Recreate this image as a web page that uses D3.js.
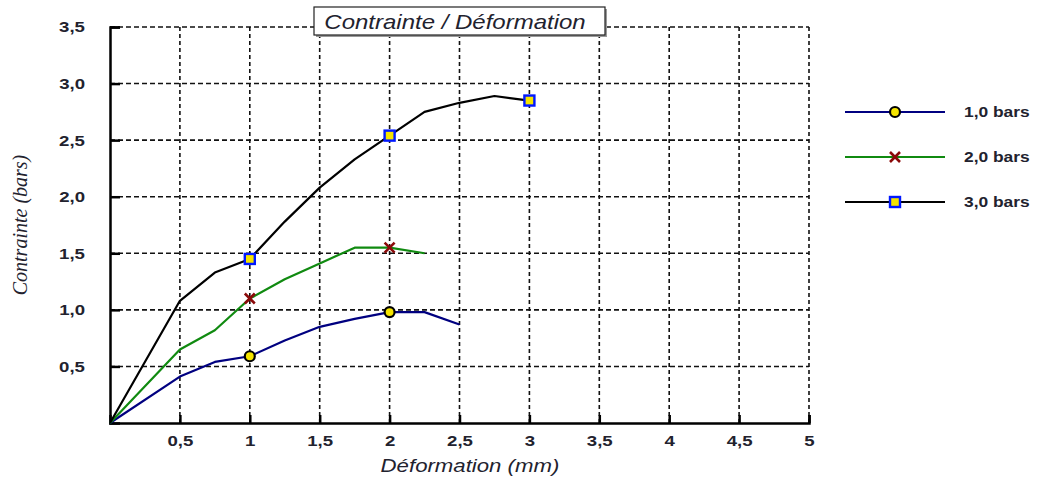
<!DOCTYPE html>
<html>
<head>
<meta charset="utf-8">
<script src="https://cdn.jsdelivr.net/npm/d3@7"></script>
<style>
  body { margin: 0; background: #fff; }
  svg { display: block; }
  /* the reference text looks a bit stretched horizontally */
  .wide { transform-box: fill-box; transform: scaleX(1.2); }
</style>
</head>
<body>
<div id="chart"></div>
<script>
// Data
const xValues = [0, 0.5, 0.75, 1, 1.25, 1.5, 1.75, 2, 2.25, 2.5, 2.75, 3];
const blueValues = [0, 0.41, 0.54, 0.59, 0.73, 0.85, 0.92, 0.98, 0.98, 0.87];
const greenValues = [0, 0.65, 0.82, 1.1, 1.27, 1.41, 1.55, 1.55, 1.5];
const blackValues = [0, 1.08, 1.33, 1.45, 1.78, 2.08, 2.33, 2.54, 2.75, 2.83, 2.89, 2.85];
const seriesNames = ["1,0 bars", "2,0 bars", "3,0 bars"];
const markerX = [1, 2, 3];
const xTicks = [0.5, 1, 1.5, 2, 2.5, 3, 3.5, 4, 4.5, 5];
const yTicks = [0.5, 1, 1.5, 2, 2.5, 3, 3.5];

const width = 1039, height = 478;
const margin = { top: 27, right: 230, bottom: 55, left: 110 };
const textColor = "#22222e";
const sans = "Arial, 'Liberation Sans', sans-serif";

const svg = d3.select("#chart").append("svg")
    .attr("width", width)
    .attr("height", height);

// Scales
const x = d3.scaleLinear().domain([0, 5]).range([margin.left, width - margin.right]);
const y = d3.scaleLinear().domain([0, 3.5]).range([height - margin.bottom, margin.top]);

const fmt = d => String(d).replace(".", ",");
const fmtY = d => d3.format(".1f")(d).replace(".", ",");

// Dashed grid
svg.append("g")
    .selectAll("line")
    .data(xTicks)
    .join("line")
    .attr("x1", d => x(d)).attr("x2", d => x(d))
    .attr("y1", y(0)).attr("y2", y(3.5))
    .attr("stroke", "#111").attr("stroke-width", 1.6)
    .attr("stroke-dasharray", "4,3");

svg.append("g")
    .selectAll("line")
    .data(yTicks)
    .join("line")
    .attr("x1", x(0)).attr("x2", x(5))
    .attr("y1", d => y(d)).attr("y2", d => y(d))
    .attr("stroke", "#111").attr("stroke-width", 1.6)
    .attr("stroke-dasharray", "5,3");

// Axes: ticks pointing inward
const xAxis = svg.append("g")
    .attr("transform", `translate(0,${y(0)})`)
    .call(d3.axisBottom(x).tickValues(xTicks).tickSize(-8).tickPadding(12).tickFormat(fmt));
const yAxis = svg.append("g")
    .attr("transform", `translate(${x(0)},0)`)
    .call(d3.axisLeft(y).tickValues(yTicks).tickSize(-10).tickPadding(25).tickFormat(fmtY));

[xAxis, yAxis].forEach(a => {
    a.select(".domain").attr("stroke", "#000").attr("stroke-width", 2.5);
    a.selectAll(".tick line").attr("stroke", "#000").attr("stroke-width", 2.5);
    a.selectAll("text").attr("fill", textColor)
        .attr("class", "wide")
        .style("font-family", sans)
        .style("font-size", "15.5px")
        .style("font-weight", "bold");
});
xAxis.selectAll("text").style("transform-origin", "center");
yAxis.selectAll("text").style("transform-origin", "right");

// Series
const series = [
    { name: seriesNames[0], values: blueValues, color: "#000080", marker: "circle" },
    { name: seriesNames[1], values: greenValues, color: "#108a10", marker: "cross" },
    { name: seriesNames[2], values: blackValues, color: "#000000", marker: "square" }
];

const line = d3.line()
    .x((d, i) => x(xValues[i]))
    .y(d => y(d));

series.forEach(s => {
    svg.append("path")
        .datum(s.values)
        .attr("fill", "none")
        .attr("stroke", s.color)
        .attr("stroke-width", 2.2)
        .attr("stroke-linejoin", "round")
        .attr("d", line);
});

// Marker drawing helper
function drawMarker(g, type, cx, cy) {
    if (type === "circle") {
        g.append("circle").attr("cx", cx).attr("cy", cy).attr("r", 5)
            .attr("fill", "#f5e400").attr("stroke", "#000").attr("stroke-width", 2.2);
    } else if (type === "cross") {
        const s = 5;
        g.append("path")
            .attr("d", `M${cx - s},${cy - s}L${cx + s},${cy + s}M${cx - s},${cy + s}L${cx + s},${cy - s}`)
            .attr("stroke", "#8b0a0a").attr("stroke-width", 2.6);
    } else {
        g.append("rect").attr("x", cx - 5).attr("y", cy - 5).attr("width", 10).attr("height", 10)
            .attr("fill", "#f5e400").attr("stroke", "#0018ff").attr("stroke-width", 2.4);
    }
}

const markers = svg.append("g");
series.forEach(s => {
    markerX.forEach(mx => {
        const i = xValues.indexOf(mx);
        if (i >= 0 && i < s.values.length) {
            drawMarker(markers, s.marker, x(mx), y(s.values[i]));
        }
    });
});

// Title box
const title = svg.append("g");
title.append("rect").attr("x", 316).attr("y", 9).attr("width", 291).attr("height", 28)
    .attr("fill", "#999");
title.append("rect").attr("x", 314).attr("y", 7).attr("width", 291).attr("height", 28)
    .attr("fill", "#fff").attr("stroke", "#222").attr("stroke-width", 1.2);
title.append("text")
    .attr("class", "wide")
    .style("transform-origin", "center")
    .attr("x", 455).attr("y", 29)
    .attr("text-anchor", "middle")
    .style("font-family", sans)
    .style("font-size", "20px").style("font-style", "italic")
    .attr("fill", textColor)
    .text("Contrainte / Déformation");

// Axis titles
svg.append("text")
    .attr("class", "wide")
    .style("transform-origin", "center")
    .attr("x", 470).attr("y", 472)
    .attr("text-anchor", "middle")
    .style("font-family", sans)
    .style("font-size", "18.5px").style("font-style", "italic")
    .attr("fill", textColor)
    .text("Déformation (mm)");

svg.append("text")
    .attr("transform", "translate(27,225) rotate(-90)")
    .attr("text-anchor", "middle")
    .style("font-family", "'Liberation Serif', 'Times New Roman', serif")
    .style("font-size", "20px").style("font-style", "italic")
    .attr("fill", textColor)
    .text("Contrainte (bars)");

// Legend
const legend = svg.append("g");
series.forEach((s, i) => {
    const ly = 112 + i * 45;
    legend.append("line")
        .attr("x1", 845).attr("x2", 945).attr("y1", ly).attr("y2", ly)
        .attr("stroke", s.color).attr("stroke-width", 2.2);
    drawMarker(legend, s.marker, 895, ly);
    legend.append("text")
        .attr("class", "wide")
        .style("transform-origin", "left")
        .attr("x", 964).attr("y", ly + 5)
        .style("font-family", sans)
        .style("font-size", "14.5px")
        .style("font-weight", "bold")
        .attr("fill", textColor)
        .text(s.name);
});
</script>
</body>
</html>
